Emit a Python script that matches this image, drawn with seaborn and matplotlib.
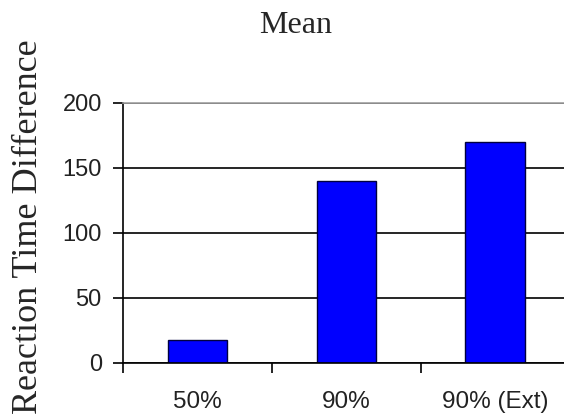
import matplotlib
matplotlib.use("Agg")
import matplotlib.pyplot as plt
import seaborn as sns
import pandas as pd

# Mean reaction time difference per condition
categories = ["50%", "90%", "90% (Ext)"]
values = [18, 140, 170]
y_ticks = [0, 50, 100, 150, 200]

df = pd.DataFrame({"condition": categories, "diff": values})

sns.set_style("white")
plt.rcParams["font.family"] = ["Liberation Sans", "DejaVu Sans"]

fig = plt.figure(figsize=(5.64, 4.19), dpi=100)
ax = fig.add_axes([0.218, 0.1337, 0.792, 0.6205])

sns.barplot(data=df, x="condition", y="diff", color="#0000FF", saturation=1,
            width=0.4, edgecolor="#000040", linewidth=1.0, ax=ax)

ax.set_xlim(-0.5, len(categories) - 0.5)
ax.set_ylim(0, 200)
ax.set_yticks(y_ticks)
ax.set_axisbelow(True)
ax.yaxis.grid(True, color="black", linewidth=1.2)
ax.xaxis.grid(False)

ax.spines["right"].set_visible(False)
ax.spines["top"].set_color("#a0a0a0")
ax.spines["top"].set_linewidth(1.2)
for side in ["left", "bottom"]:
    ax.spines[side].set_color("black")
    ax.spines[side].set_linewidth(1.2)

ax.tick_params(axis="y", which="major", left=True, direction="out", length=7.2,
               width=1.2, color="black", pad=8, labelsize=17, labelcolor="#222222")
# category labels sit between boundary tick marks
ax.set_xticks([i for i in range(len(categories))])
ax.set_xticklabels(categories)
ax.set_xticks([i - 0.5 for i in range(len(categories) + 1)], minor=True)
ax.tick_params(axis="x", which="major", bottom=True, length=0, pad=20,
               labelsize=17.5, labelcolor="#222222")
ax.tick_params(axis="x", which="minor", bottom=True, direction="out",
               length=7.2, width=1.2, color="black")
ax.set_xlabel("")
ax.set_ylabel("")

fig.text(0.525, 0.921, "Mean", ha="center", va="baseline",
         family="Liberation Serif", fontsize=23)
fig.text(37 / 564, 0.458, "Reaction Time Difference", rotation=90,
         rotation_mode="anchor", ha="center", va="baseline",
         family="Liberation Serif", fontsize=26)

fig.savefig("out.png", dpi=100)
